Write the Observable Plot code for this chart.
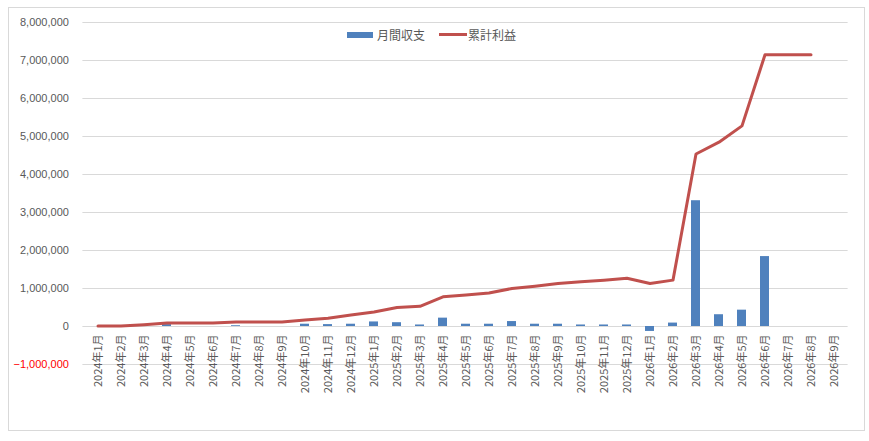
<!DOCTYPE html>
<html><head><meta charset="utf-8">
<script src="https://cdn.jsdelivr.net/npm/d3@7"></script>
<script src="https://cdn.jsdelivr.net/npm/@observablehq/plot@0.6"></script>
<style>
body{margin:0;background:#fff;}
#wrap{position:relative;width:869px;height:441px;}
#border{position:absolute;left:8px;top:7px;width:857px;height:424px;border:1px solid #d9d9d9;pointer-events:none;box-sizing:border-box;}
#legend{position:absolute;top:26px;left:347px;font:12px "Noto Sans CJK JP";color:#595959;display:flex;align-items:center;white-space:nowrap;}
#legend .sw{display:inline-block;}
</style></head><body>
<div id="wrap"><div id="chart"></div><div id="border"></div>
<div id="legend"><span class="sw" style="width:26px;height:6px;background:#4f81bd;margin-right:4px"></span><span>月間収支</span><span class="sw" style="width:28px;height:3px;background:#c0504d;margin-left:14px;margin-right:1px"></span><span>累計利益</span></div>
</div>
<script>
const months = ["2024年1月","2024年2月","2024年3月","2024年4月","2024年5月","2024年6月","2024年7月","2024年8月","2024年9月","2024年10月","2024年11月","2024年12月",
"2025年1月","2025年2月","2025年3月","2025年4月","2025年5月","2025年6月","2025年7月","2025年8月","2025年9月","2025年10月","2025年11月","2025年12月",
"2026年1月","2026年2月","2026年3月","2026年4月","2026年5月","2026年6月","2026年7月","2026年8月","2026年9月"];
const monthly = [0,0,10000,50000,0,0,20000,0,0,60000,50000,60000,
120000,100000,40000,220000,60000,60000,130000,60000,60000,40000,40000,40000,
-130000,90000,3310000,310000,430000,1840000,0,0,null];
const cumulative = [10000,10000,45000,90000,90000,90000,120000,120000,120000,170000,220000,300000,
380000,500000,530000,780000,830000,880000,1000000,1060000,1130000,1180000,1220000,1270000,
1130000,1220000,4540000,4850000,5280000,7150000,7150000,7150000,null];
const yTicks = [-1000000,0,1000000,2000000,3000000,4000000,5000000,6000000,7000000,8000000];

const data = months.map((m,i)=>({month:m, monthly:monthly[i], cum:cumulative[i]}));
const fmt = d3.format(",");
const font = '"Noto Sans CJK JP", "Liberation Sans", sans-serif';

const chart = Plot.plot({
  width: 869, height: 441,
  marginLeft: 82.4, marginRight: 21.4, marginTop: 22, marginBottom: 77,
  style: {fontFamily: font, background: "#fff"},
  x: {domain: months, paddingInner: 0.62, paddingOuter: 0.31, axis: null},
  y: {domain: [-1000000, 8000000], axis: null},
  marks: [
    Plot.ruleY(yTicks, {stroke: "#d9d9d9", strokeWidth: 1}),
    Plot.barY(data.filter(d => d.monthly != null), {x: "month", y: "monthly", fill: "#4f81bd"}),
    Plot.lineY(data.filter(d => d.cum != null), {x: "month", y: "cum", stroke: "#c0504d", strokeWidth: 3, strokeLinejoin: "round", strokeLinecap: "round"}),
    Plot.text(yTicks, {y: d => d, frameAnchor: "left", textAnchor: "end", dx: -14, text: d => fmt(d),
      fill: d => d < 0 ? "#ff0000" : "#595959", fontSize: 11, fontFamily: '"Liberation Sans", sans-serif'}),
    Plot.text(months, {x: d => d, y: 0, rotate: -90, textAnchor: "end", dy: 8, text: d => d,
      fill: "#595959", fontSize: 11})
  ]
});
document.getElementById("chart").appendChild(chart);
</script>
</body></html>
